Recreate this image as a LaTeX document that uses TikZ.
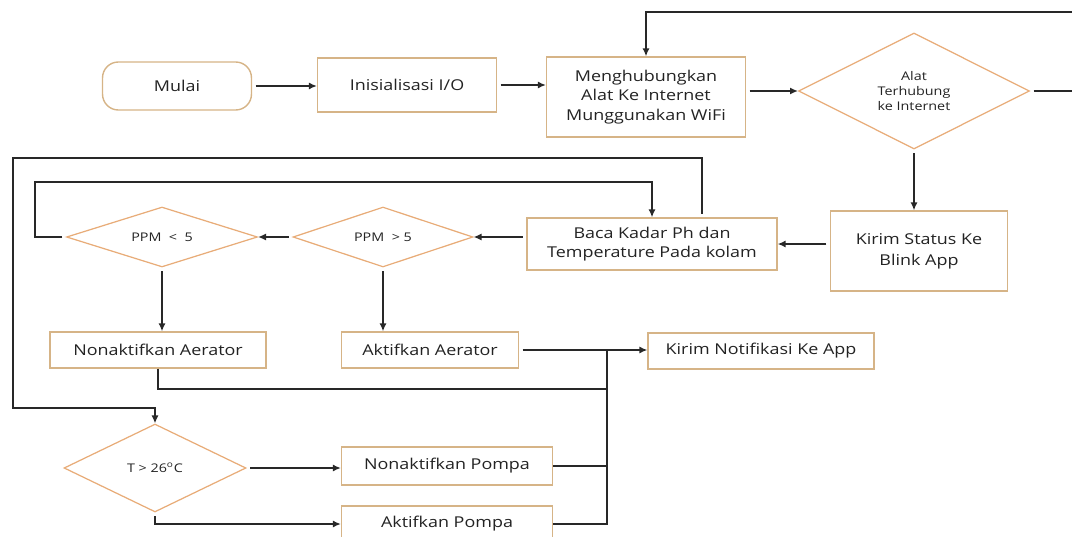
\documentclass[tikz,border=0pt]{standalone}
\usepackage{fontspec}
\setmainfont{Open Sans}[FakeStretch=1.2]
\usetikzlibrary{arrows.meta,shapes.geometric}
\definecolor{boxline}{RGB}{214,180,135}
\definecolor{diamline}{RGB}{232,172,120}
\definecolor{wirecolor}{RGB}{40,40,40}
\definecolor{ink}{RGB}{35,35,35}

\begin{document}
\begin{tikzpicture}[x=0.02cm, y=-0.02cm,
    every node/.style={text=ink, font=\fontsize{8.5}{11}\selectfont},
    procbox/.style={draw=boxline, line width=0.8pt, fill=white, align=center, inner sep=2pt},
    startbox/.style={procbox, rounded corners=9pt},
    decision/.style={diamond, aspect=2, draw=diamline, line width=0.7pt, fill=white, align=center, inner sep=0pt, font=\fontsize{6.8}{8.8}\selectfont},
    wire/.style={draw=wirecolor, line width=0.8pt},
    flow/.style={wire, shorten <=2pt, -{Latex[length=4.5pt,width=4pt]}}]
        \useasboundingbox (0,0) rectangle (1072,537);

        % top row
        \node[startbox, minimum width=2.98cm, minimum height=0.96cm] (mulai) at (177,86) {Mulai};
        \node[procbox, minimum width=3.58cm, minimum height=1.08cm] (init) at (407,85) {Inisialisasi I/O};
        \node[procbox, minimum width=3.98cm, minimum height=1.6cm] (meng) at (646,97) {Menghubungkan\\Alat Ke Internet\\Munggunakan WiFi};
        \node[decision, minimum width=4.62cm, minimum height=2.32cm] (alat) at (914,91) {Alat\\Terhubung\\ke Internet};

        % sensor row
        \node[procbox, minimum width=3.54cm, minimum height=1.6cm, font=\fontsize{8.5}{12}\selectfont] (status) at (919,251) {Kirim Status Ke\\Blink App};
        \node[procbox, minimum width=5cm, minimum height=1.04cm] (baca) at (652,244) {Baca Kadar Ph dan\\Temperature Pada kolam};
        \node[decision, minimum width=3.6cm, minimum height=1.2cm] (ppmgt) at (383,237) {PPM\ \ > 5};
        \node[decision, minimum width=3.82cm, minimum height=1.2cm] (ppmlt) at (162,237) {PPM\ \ <\ \ 5};

        % aerator
        \node[procbox, minimum width=4.32cm, minimum height=0.72cm] (nonaer) at (158,350) {Nonaktifkan Aerator};
        \node[procbox, minimum width=3.54cm, minimum height=0.72cm] (aer) at (430,350) {Aktifkan Aerator};
        \node[procbox, minimum width=4.52cm, minimum height=0.72cm] (notif) at (761,351) {Kirim Notifikasi Ke App};

        % pompa
        \node[decision, minimum width=3.64cm, minimum height=1.76cm] (tdia) at (155,468) {T > 26\textsuperscript{o}C};
        \node[procbox, minimum width=4.22cm, minimum height=0.76cm] (nonpompa) at (447,466) {Nonaktifkan Pompa};
        \node[procbox, minimum width=4.22cm, minimum height=0.72cm] (pompa) at (447,524) {Aktifkan Pompa};

        \coordinate (redge) at (1076,12);
        \coordinate (innerc) at (35,182);
        \coordinate (outtop) at (702,158);
        \coordinate (outbot) at (13,408);
        \coordinate (bus) at (607,350);
        \coordinate (busjoin) at (607,389);

        % connectors
        \draw[flow] (mulai.east) -- (mulai.east -| init.west);
        \draw[flow] (init.east) -- (init.east -| meng.west);
        \draw[flow] (meng.east |- alat.west) -- (alat.west);
        \draw[flow] (alat.east) -| (redge) -| (meng.north);
        \draw[flow] (alat.south) -- (alat.south |- status.north);
        \draw[flow] (status.west |- baca.east) -- (baca.east);
        \draw[flow] (baca.west |- ppmgt.east) -- (ppmgt.east);
        \draw[flow] (ppmgt.west) -- (ppmlt.east);
        \draw[flow] (ppmlt.west) -| (innerc) -| (baca.north);
        \draw[flow] (outtop |- baca.north) -- (outtop) -| (outbot) -| (tdia.north);
        \draw[flow] (ppmlt.south) -- (ppmlt.south |- nonaer.north);
        \draw[flow] (ppmgt.south) -- (ppmgt.south |- aer.north);
        \draw[flow] (aer.east) -- (aer.east -| notif.west);
        \draw[wire] (nonaer.south) |- (busjoin);
        \draw[wire] (nonpompa.east) -- (nonpompa.east -| bus);
        \draw[wire] (pompa.east) -| (bus);
        \draw[flow] (tdia.east) -- (tdia.east -| nonpompa.west);
        \draw[flow] (tdia.south) |- (pompa.west);
      \end{tikzpicture}
\end{document}
